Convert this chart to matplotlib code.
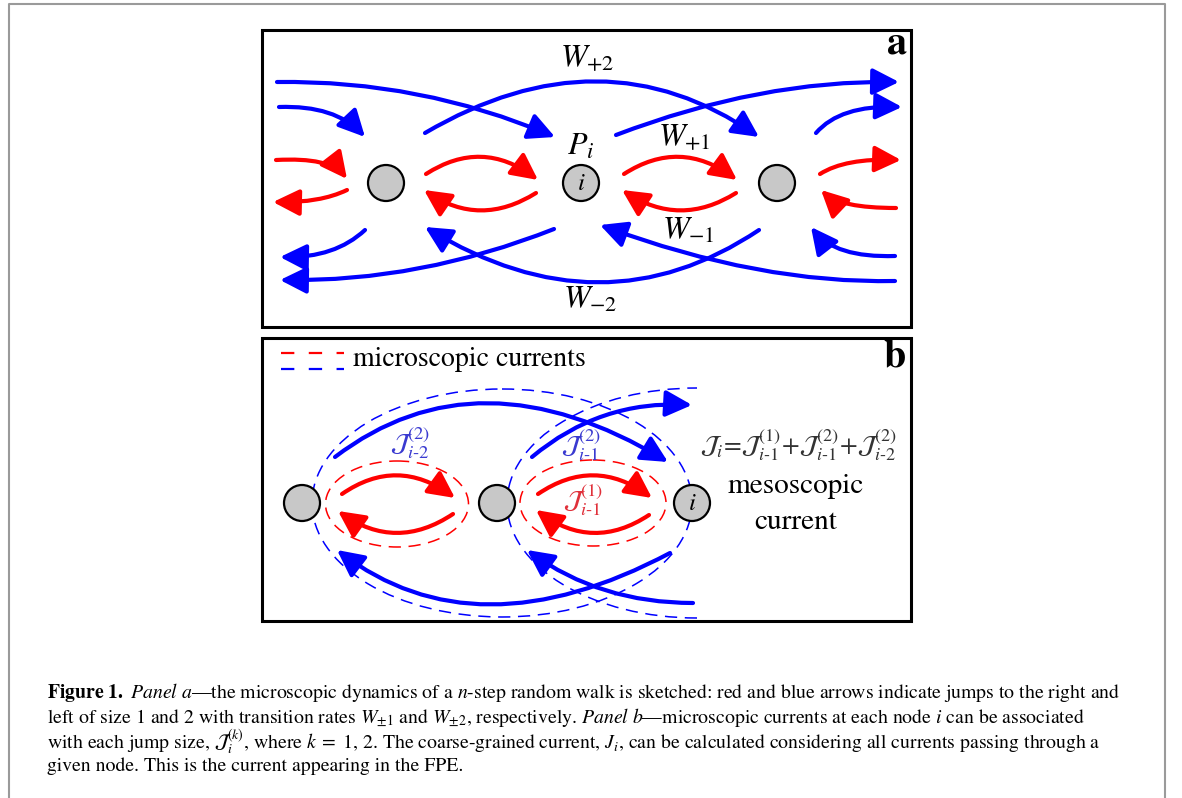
# Sketch of the n-step random walk (panels a and b) with caption
import matplotlib
matplotlib.use('Agg')
import matplotlib.pyplot as plt
from matplotlib.patches import FancyArrowPatch, Circle, Ellipse, Arc, Rectangle
from matplotlib.path import Path

plt.rcParams['mathtext.fontset'] = 'stix'
plt.rcParams['font.family'] = ['STIXGeneral', 'DejaVu Sans']

red = '#ff0000'
blue = '#0000ff'

# node centres (page pixels)
nodes_a_x = [386, 581, 777]
nodes_a_y = 183
nodes_b_x = [302, 497, 692]
nodes_b_y = 503

# arrows as (start, control, tip) of quadratic curves
red_a = [
    ((426, 174), (482, 138), (538, 180)),
    ((536, 193), (480, 228), (424, 190)),
    ((624, 174), (680, 138), (737, 180)),
    ((736, 193), (680, 228), (622, 190)),
    ((276, 160), (330, 157), (347, 179)),
    ((347, 190), (320, 203), (273, 202)),
    ((820, 174), (845, 158), (901, 160)),
    ((896, 208), (840, 208), (821, 190)),
]
blue_a = [
    ((279, 107), (335, 105), (365, 137)),
    ((277, 82), (420, 80), (555, 137)),
    ((425, 133), (602, 29), (759, 137)),
    ((616, 135), (760, 80), (899, 82)),
    ((816, 133), (840, 105), (902, 107)),
    ((365, 230), (335, 258), (280, 257)),
    ((554, 229), (420, 282), (280, 280)),
    ((759, 230), (602, 335), (425, 227)),
    ((895, 281), (760, 284), (600, 225)),
    ((895, 256), (835, 258), (811, 227)),
]
red_b = [
    ((342, 494), (397, 456), (455, 498)),
    ((453, 514), (396, 552), (338, 511)),
    ((538, 494), (594, 456), (652, 498)),
    ((649, 515), (593, 552), (536, 510)),
]
blue_b = [
    ((335, 457), (478, 348), (668, 462)),
    ((532, 457), (600, 400), (692, 405)),
    ((670, 553), (476, 656), (337, 550)),
    ((693, 603), (600, 603), (527, 550)),
]
# dashed envelopes: centre x, centre y, width, height
red_rings = [(397, 504, 143, 86), (593, 503, 146, 86)]
blue_ring = (502, 503, 380, 228)
blue_half = (697, 503, 380, 230)

caption = [
    r'$\mathbf{Figure\ 1.}$ $\mathit{Panel\ a}$—the microscopic dynamics of a $n$-step random walk is sketched: red and blue arrows indicate jumps to the right and',
    r'left of size 1 and 2 with transition rates $W_{\pm1}$ and $W_{\pm2}$, respectively. $\mathit{Panel\ b}$—microscopic currents at each node $i$ can be associated',
    r'with each jump size, $\mathcal{J}_i^{(k)}$, where $k\;=\;1,\,2$. The coarse-grained current, $J_i$, can be calculated considering all currents passing through a',
    r'given node. This is the current appearing in the FPE.',
]

fig = plt.figure(figsize=(11.82, 7.98), dpi=100)
ax = fig.add_axes([0, 0, 1, 1])
ax.set_xlim(0, 1182)
ax.set_ylim(798, 0)
ax.axis('off')


def arrow(p0, c, p1, color):
    path = Path([p0, c, p1], [Path.MOVETO, Path.CURVE3, Path.CURVE3])
    ax.add_patch(FancyArrowPatch(path=path, arrowstyle='-|>,head_length=0.8,head_width=0.4',
                                 mutation_scale=20, color=color, lw=3, zorder=3))


def node(x, y, label=None):
    ax.add_patch(Circle((x, y), 18, facecolor='#c8c8c8', edgecolor='black', lw=1.6, zorder=5))
    if label:
        ax.text(x, y + 1, label, ha='center', va='center', fontsize=18, zorder=6)


# page frame and panel boxes
ax.plot([9, 9, 1165, 1165], [798, 3.5, 3.5, 798], color='#9a9a9a', lw=1.5)
ax.add_patch(Rectangle((262, 30), 649, 297, fill=False, ec='black', lw=2.2))
ax.add_patch(Rectangle((262, 338), 649, 283, fill=False, ec='black', lw=2.2))

# panel a
for a in red_a:
    arrow(*a, red)
for a in blue_a:
    arrow(*a, blue)
for k, x in enumerate(nodes_a_x):
    node(x, nodes_a_y, r'$i$' if k == 1 else None)
ax.text(587, 58, r'$W_{+2}$', ha='center', va='center', fontsize=23)
ax.text(581, 147, r'$P_{i}$', ha='center', va='center', fontsize=23)
ax.text(684, 137, r'$W_{+1}$', ha='center', va='center', fontsize=23)
ax.text(688, 231, r'$W_{-1}$', ha='center', va='center', fontsize=23)
ax.text(590, 300, r'$W_{-2}$', ha='center', va='center', fontsize=23)
ax.text(897, 44, 'a', ha='center', va='center', fontsize=29, fontweight='bold')

# panel b
ax.plot([281, 344], [353, 353], color=red, lw=1.6, ls=(0, (6, 6.5)))
ax.plot([281, 344], [369, 369], color=blue, lw=1.6, ls=(0, (6, 6.5)))
ax.text(353, 359, 'microscopic currents', ha='left', va='center', fontsize=20)
ax.text(895, 357, 'b', ha='center', va='center', fontsize=29, fontweight='bold')

cx, cy, w, h = blue_ring
ax.add_patch(Ellipse((cx, cy), w, h, fill=False, ec=blue, lw=1.1, ls=(0, (8, 5)), zorder=2))
cx, cy, w, h = blue_half
ax.add_patch(Arc((cx, cy), w, h, theta1=90, theta2=270, ec=blue, lw=1.1, ls=(0, (8, 5)), zorder=2))
for cx, cy, w, h in red_rings:
    ax.add_patch(Ellipse((cx, cy), w, h, fill=False, ec=red, lw=1.1, ls=(0, (8, 5)), zorder=2))

for a in red_b:
    arrow(*a, red)
for a in blue_b:
    arrow(*a, blue)
for k, x in enumerate(nodes_b_x):
    node(x, nodes_b_y, r'$i$' if k == 2 else None)

ax.text(410, 443, r'$\mathcal{J}_{i\text{-}2}^{\mathit{(2)}}$', ha='center', va='center', fontsize=19, color='#3a3ad0')
ax.text(581, 445, r'$\mathcal{J}_{i\text{-}1}^{\mathit{(2)}}$', ha='center', va='center', fontsize=19, color='#3a3ad0')
ax.text(583, 500, r'$\mathcal{J}_{i\text{-}1}^{\mathit{(1)}}$', ha='center', va='center', fontsize=19, color='#e0303a')
ax.text(700, 445, r'$\mathcal{J}_i\!=\!\mathcal{J}_{i\text{-}1}^{\mathit{(1)}}\!+\!\mathcal{J}_{i\text{-}1}^{\mathit{(2)}}\!+\!\mathcal{J}_{i\text{-}2}^{\mathit{(2)}}$',
        ha='left', va='center', fontsize=18.5, color='#333333')
ax.text(796, 486, 'mesoscopic', ha='center', va='center', fontsize=21)
ax.text(796, 522, 'current', ha='center', va='center', fontsize=21)

# caption
for k, line in enumerate(caption):
    ax.text(47, 693 + 24.5 * k, line, ha='left', va='center', fontsize=14.2)

fig.savefig('out.png', dpi=100)
